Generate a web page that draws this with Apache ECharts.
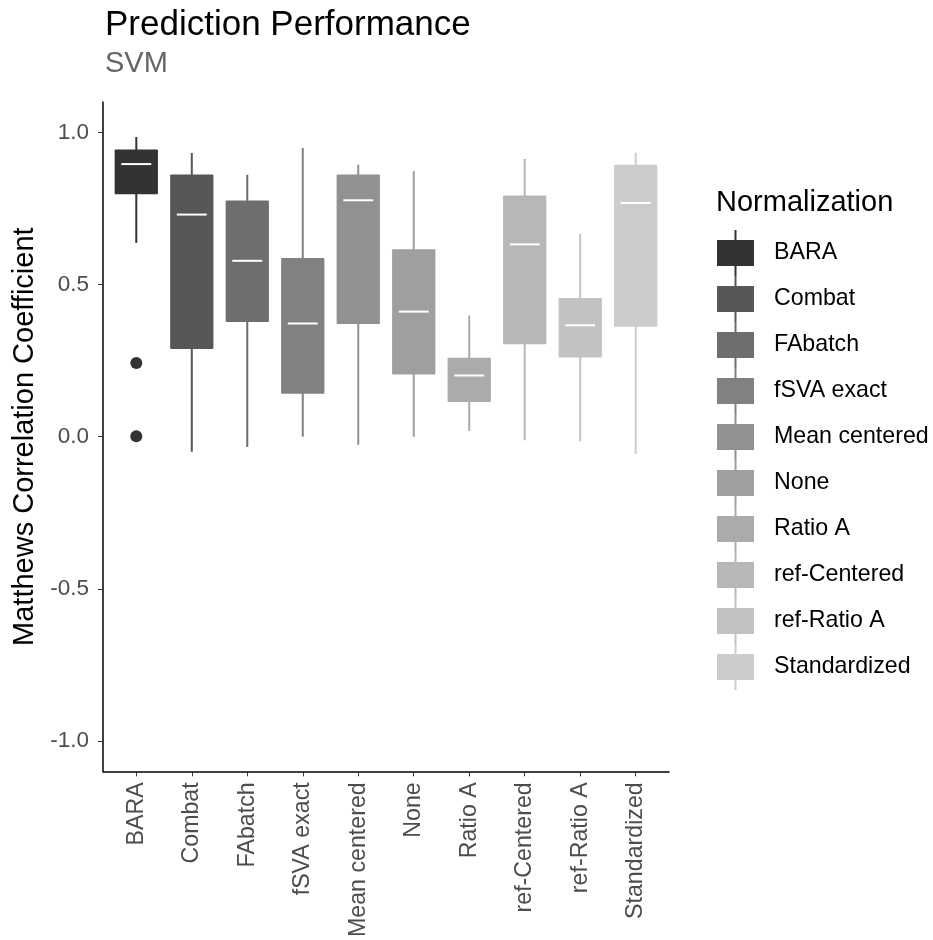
<!DOCTYPE html>
<html>
<head>
<meta charset="utf-8">
<script src="https://cdn.jsdelivr.net/npm/echarts@6/dist/echarts.min.js"></script>
<style>
  html, body { margin: 0; padding: 0; background: #fff; }
  #container { width: 933px; height: 940px; }
</style>
</head>
<body>
<div id="container"></div>
<script>
var categories = ['BARA', 'Combat', 'FAbatch', 'fSVA exact', 'Mean centered', 'None', 'Ratio A', 'ref-Centered', 'ref-Ratio A', 'Standardized'];
var lowWhisker = [0.637, -0.050, -0.034, 0.000, -0.027, 0.000, 0.019, -0.012, -0.015, -0.057];
var lowerQuartile = [0.797, 0.288, 0.377, 0.141, 0.370, 0.204, 0.114, 0.304, 0.260, 0.361];
var medians = [0.896, 0.730, 0.578, 0.372, 0.777, 0.411, 0.201, 0.632, 0.366, 0.768];
var upperQuartile = [0.944, 0.862, 0.776, 0.587, 0.862, 0.616, 0.259, 0.793, 0.456, 0.894];
var highWhisker = [0.985, 0.932, 0.861, 0.949, 0.894, 0.873, 0.398, 0.913, 0.667, 0.933];
var outliers = [[0, 0.242], [0, 0.001]];
var yTicks = [-1, -0.5, 0, 0.5, 1];
var xTicks = [0, 1, 2, 3, 4, 5, 6, 7, 8, 9];

// grey.colors(10, 0.2, 0.8)
var greys = ['#333333', '#575757', '#6E6E6E', '#818181', '#919191', '#9F9F9F', '#ABABAB', '#B7B7B7', '#C2C2C2', '#CCCCCC'];

var FONT = 'Liberation Sans';

function renderBox(params, api) {
    var x = api.value(0);
    var unit = api.size([1, 0])[0];
    var half = unit * 0.39;
    var medHalf = unit * 0.27;
    var color = api.visual('color');
    var pLow = api.coord([x, api.value(1)]);
    var pQ1 = api.coord([x, api.value(2)]);
    var pMed = api.coord([x, api.value(3)]);
    var pQ3 = api.coord([x, api.value(4)]);
    var pHigh = api.coord([x, api.value(5)]);
    return {
        type: 'group',
        children: [{
            type: 'line',
            shape: { x1: pLow[0], y1: pLow[1], x2: pHigh[0], y2: pHigh[1] },
            style: { stroke: color, lineWidth: 2 }
        }, {
            type: 'rect',
            shape: { x: pQ3[0] - half, y: pQ3[1], width: half * 2, height: pQ1[1] - pQ3[1], r: 1 },
            style: { fill: color }
        }, {
            type: 'line',
            shape: { x1: pMed[0] - medHalf, y1: pMed[1], x2: pMed[0] + medHalf, y2: pMed[1] },
            style: { stroke: '#ffffff', lineWidth: 2 }
        }]
    };
}

var series = [];
for (var i = 0; i < categories.length; i++) {
    series.push({
        name: categories[i],
        type: 'custom',
        renderItem: renderBox,
        itemStyle: { color: greys[i] },
        encode: { x: 0, y: [1, 2, 3, 4, 5] },
        data: [[i, lowWhisker[i], lowerQuartile[i], medians[i], upperQuartile[i], highWhisker[i]]],
        z: 2
    });
}
series.push({
    name: 'outliers',
    type: 'scatter',
    symbolSize: 12,
    itemStyle: { color: '#333333', opacity: 1 },
    data: outliers,
    z: 3
});

var option = {
    animation: false,
    textStyle: { fontFamily: FONT },
    title: [{
        text: 'Prediction Performance',
        subtext: 'SVM',
        left: 100,
        top: 3,
        itemGap: 6,
        textStyle: { fontFamily: FONT, fontSize: 35, fontWeight: 'normal', color: '#000000' },
        subtextStyle: { fontFamily: FONT, fontSize: 29, color: '#666666' }
    }, {
        text: 'Normalization',
        left: 711,
        top: 183,
        textStyle: { fontFamily: FONT, fontSize: 29, fontWeight: 'normal', color: '#000000' }
    }],
    legend: {
        data: categories,
        orient: 'vertical',
        left: 717,
        top: 230,
        padding: 0,
        itemGap: 0,
        itemWidth: 37,
        itemHeight: 46,
        icon: 'path://M0,10L37,10L37,36L0,36ZM17.5,0L19.5,0L19.5,46L17.5,46Z',
        selectedMode: false,
        textStyle: { fontFamily: FONT, fontSize: 23.2, color: '#000000', padding: [0, 0, 0, 15] }
    },
    grid: { left: 103, top: 102, right: 264, bottom: 167 },
    xAxis: {
        type: 'value',
        min: -0.6,
        max: 9.6,
        axisLine: { show: true, onZero: false, lineStyle: { color: '#000000', width: 1.5 } },
        axisTick: { show: true, length: 5, customValues: xTicks, lineStyle: { color: '#333333' } },
        axisLabel: {
            rotate: 90, fontFamily: FONT, fontSize: 23.2, color: '#4d4d4d', margin: 11,
            customValues: xTicks,
            formatter: function (v) { return categories[Math.round(v)]; }
        },
        splitLine: { show: false }
    },
    yAxis: {
        type: 'value',
        min: -1.1,
        max: 1.1,
        name: 'Matthews Correlation Coefficient',
        nameLocation: 'middle',
        nameGap: 60,
        nameTextStyle: { fontFamily: FONT, fontSize: 29, color: '#000000' },
        axisLine: { show: true, onZero: false, lineStyle: { color: '#000000', width: 1.5 } },
        axisTick: { show: true, length: 5, customValues: yTicks, lineStyle: { color: '#333333' } },
        axisLabel: {
            fontFamily: FONT, fontSize: 22.5, color: '#4d4d4d', margin: 14,
            customValues: yTicks,
            formatter: function (v) { return v.toFixed(1); }
        },
        splitLine: { show: false }
    },
    series: series
};

var chart = echarts.init(document.getElementById('container'));
chart.setOption(option);
</script>
</body>
</html>
